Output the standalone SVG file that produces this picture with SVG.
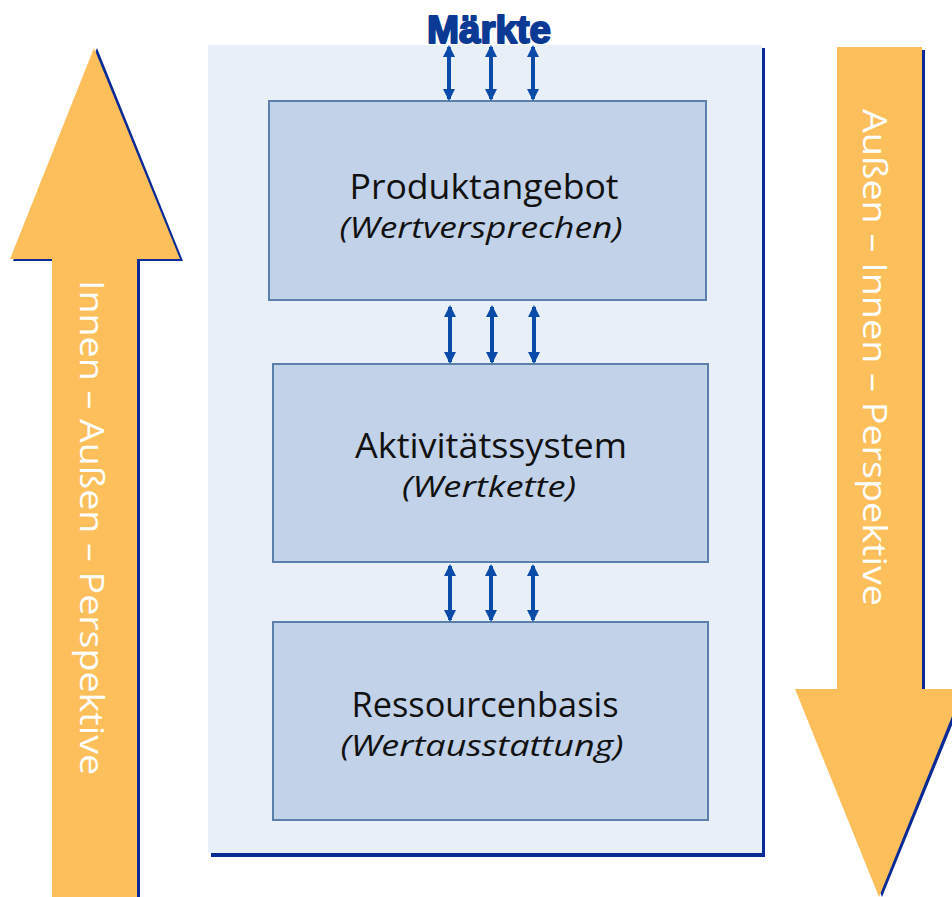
<svg xmlns="http://www.w3.org/2000/svg" width="952" height="897" viewBox="0 0 952 897">
<defs>
<style>
.shadow{fill:#0a2a96}
.orange{fill:#fdbf5c}
.box{fill:#c2d2e8;stroke:#5a80ab;stroke-width:2}
.t1{font-family:"Open Sans","Noto Sans",sans-serif;font-size:35px;fill:#111;text-anchor:middle}
.t2{font-family:"Open Sans","Noto Sans",sans-serif;font-size:30px;font-style:italic;fill:#111;text-anchor:middle}
.vt{font-family:"Open Sans","Noto Sans",sans-serif;font-size:33px;fill:#ffffff}
.dbl{stroke:#0a4aa8;stroke-width:4;fill:none;marker-start:url(#ah);marker-end:url(#ah)}
</style>
<marker id="ah" viewBox="0 0 12 12" refX="10" refY="6" markerWidth="12" markerHeight="12" markerUnits="userSpaceOnUse" orient="auto-start-reverse">
<path d="M0,0 L12,6 L0,12 Z" fill="#0a4aa8"/>
</marker>
</defs>

<g id="left-arrow">
<polygon class="shadow" points="97,48 183,261 140,261 140,897 55,897 55,261 13,261"/>
<polygon class="orange" points="94,48 180,259 137,259 137,897 52,897 52,259 10,259"/>
<text class="vt" transform="translate(80,280) rotate(90)" textLength="495" lengthAdjust="spacingAndGlyphs">Innen – Außen – Perspektive</text>
</g>

<g id="right-arrow">
<polygon class="shadow" points="840,50 925,50 925,691 966,691 882,897 798,691 840,691"/>
<polygon class="orange" points="837,47 922,47 922,689 963,689 879,897 795,689 837,689"/>
<text class="vt" transform="translate(863,109) rotate(90)" textLength="497" lengthAdjust="spacingAndGlyphs">Außen – Innen – Perspektive</text>
</g>

<g id="panel">
<rect class="shadow" x="211" y="48" width="554" height="809"/>
<rect x="208" y="45" width="554" height="808" fill="#e9eff8"/>
</g>

<g id="maerkte">
<text x="489" y="43" font-family="Liberation Sans, Arial, sans-serif" font-weight="bold" font-size="38" fill="#0a3a94" stroke="#0a3a94" stroke-width="2" stroke-linejoin="round" text-anchor="middle" textLength="124" lengthAdjust="spacingAndGlyphs">Märkte</text>
</g>

<g id="produktangebot">
<rect class="box" x="269" y="101" width="437" height="199"/>
<text class="t1" x="484" y="199" textLength="269" lengthAdjust="spacingAndGlyphs">Produktangebot</text>
<text class="t2" x="481" y="238" textLength="283" lengthAdjust="spacingAndGlyphs">(Wertversprechen)</text>
</g>

<g id="aktivitaetssystem">
<rect class="box" x="273" y="364" width="435" height="198"/>
<text class="t1" x="491" y="458" textLength="272" lengthAdjust="spacingAndGlyphs">Aktivitätssystem</text>
<text class="t2" x="489" y="497" textLength="174" lengthAdjust="spacingAndGlyphs">(Wertkette)</text>
</g>

<g id="ressourcenbasis">
<rect class="box" x="273" y="622" width="435" height="198"/>
<text class="t1" x="485" y="717" textLength="267" lengthAdjust="spacingAndGlyphs">Ressourcenbasis</text>
<text class="t2" x="482" y="756" textLength="283" lengthAdjust="spacingAndGlyphs">(Wertausstattung)</text>
</g>

<g id="connectors">
<line class="dbl" x1="449" y1="47" x2="449" y2="99"/>
<line class="dbl" x1="491" y1="47" x2="491" y2="99"/>
<line class="dbl" x1="533" y1="47" x2="533" y2="99"/>
<line class="dbl" x1="450" y1="307" x2="450" y2="362"/>
<line class="dbl" x1="492" y1="307" x2="492" y2="362"/>
<line class="dbl" x1="534" y1="307" x2="534" y2="362"/>
<line class="dbl" x1="450" y1="566" x2="450" y2="620"/>
<line class="dbl" x1="491" y1="566" x2="491" y2="620"/>
<line class="dbl" x1="533" y1="566" x2="533" y2="620"/>
</g>
</svg>
